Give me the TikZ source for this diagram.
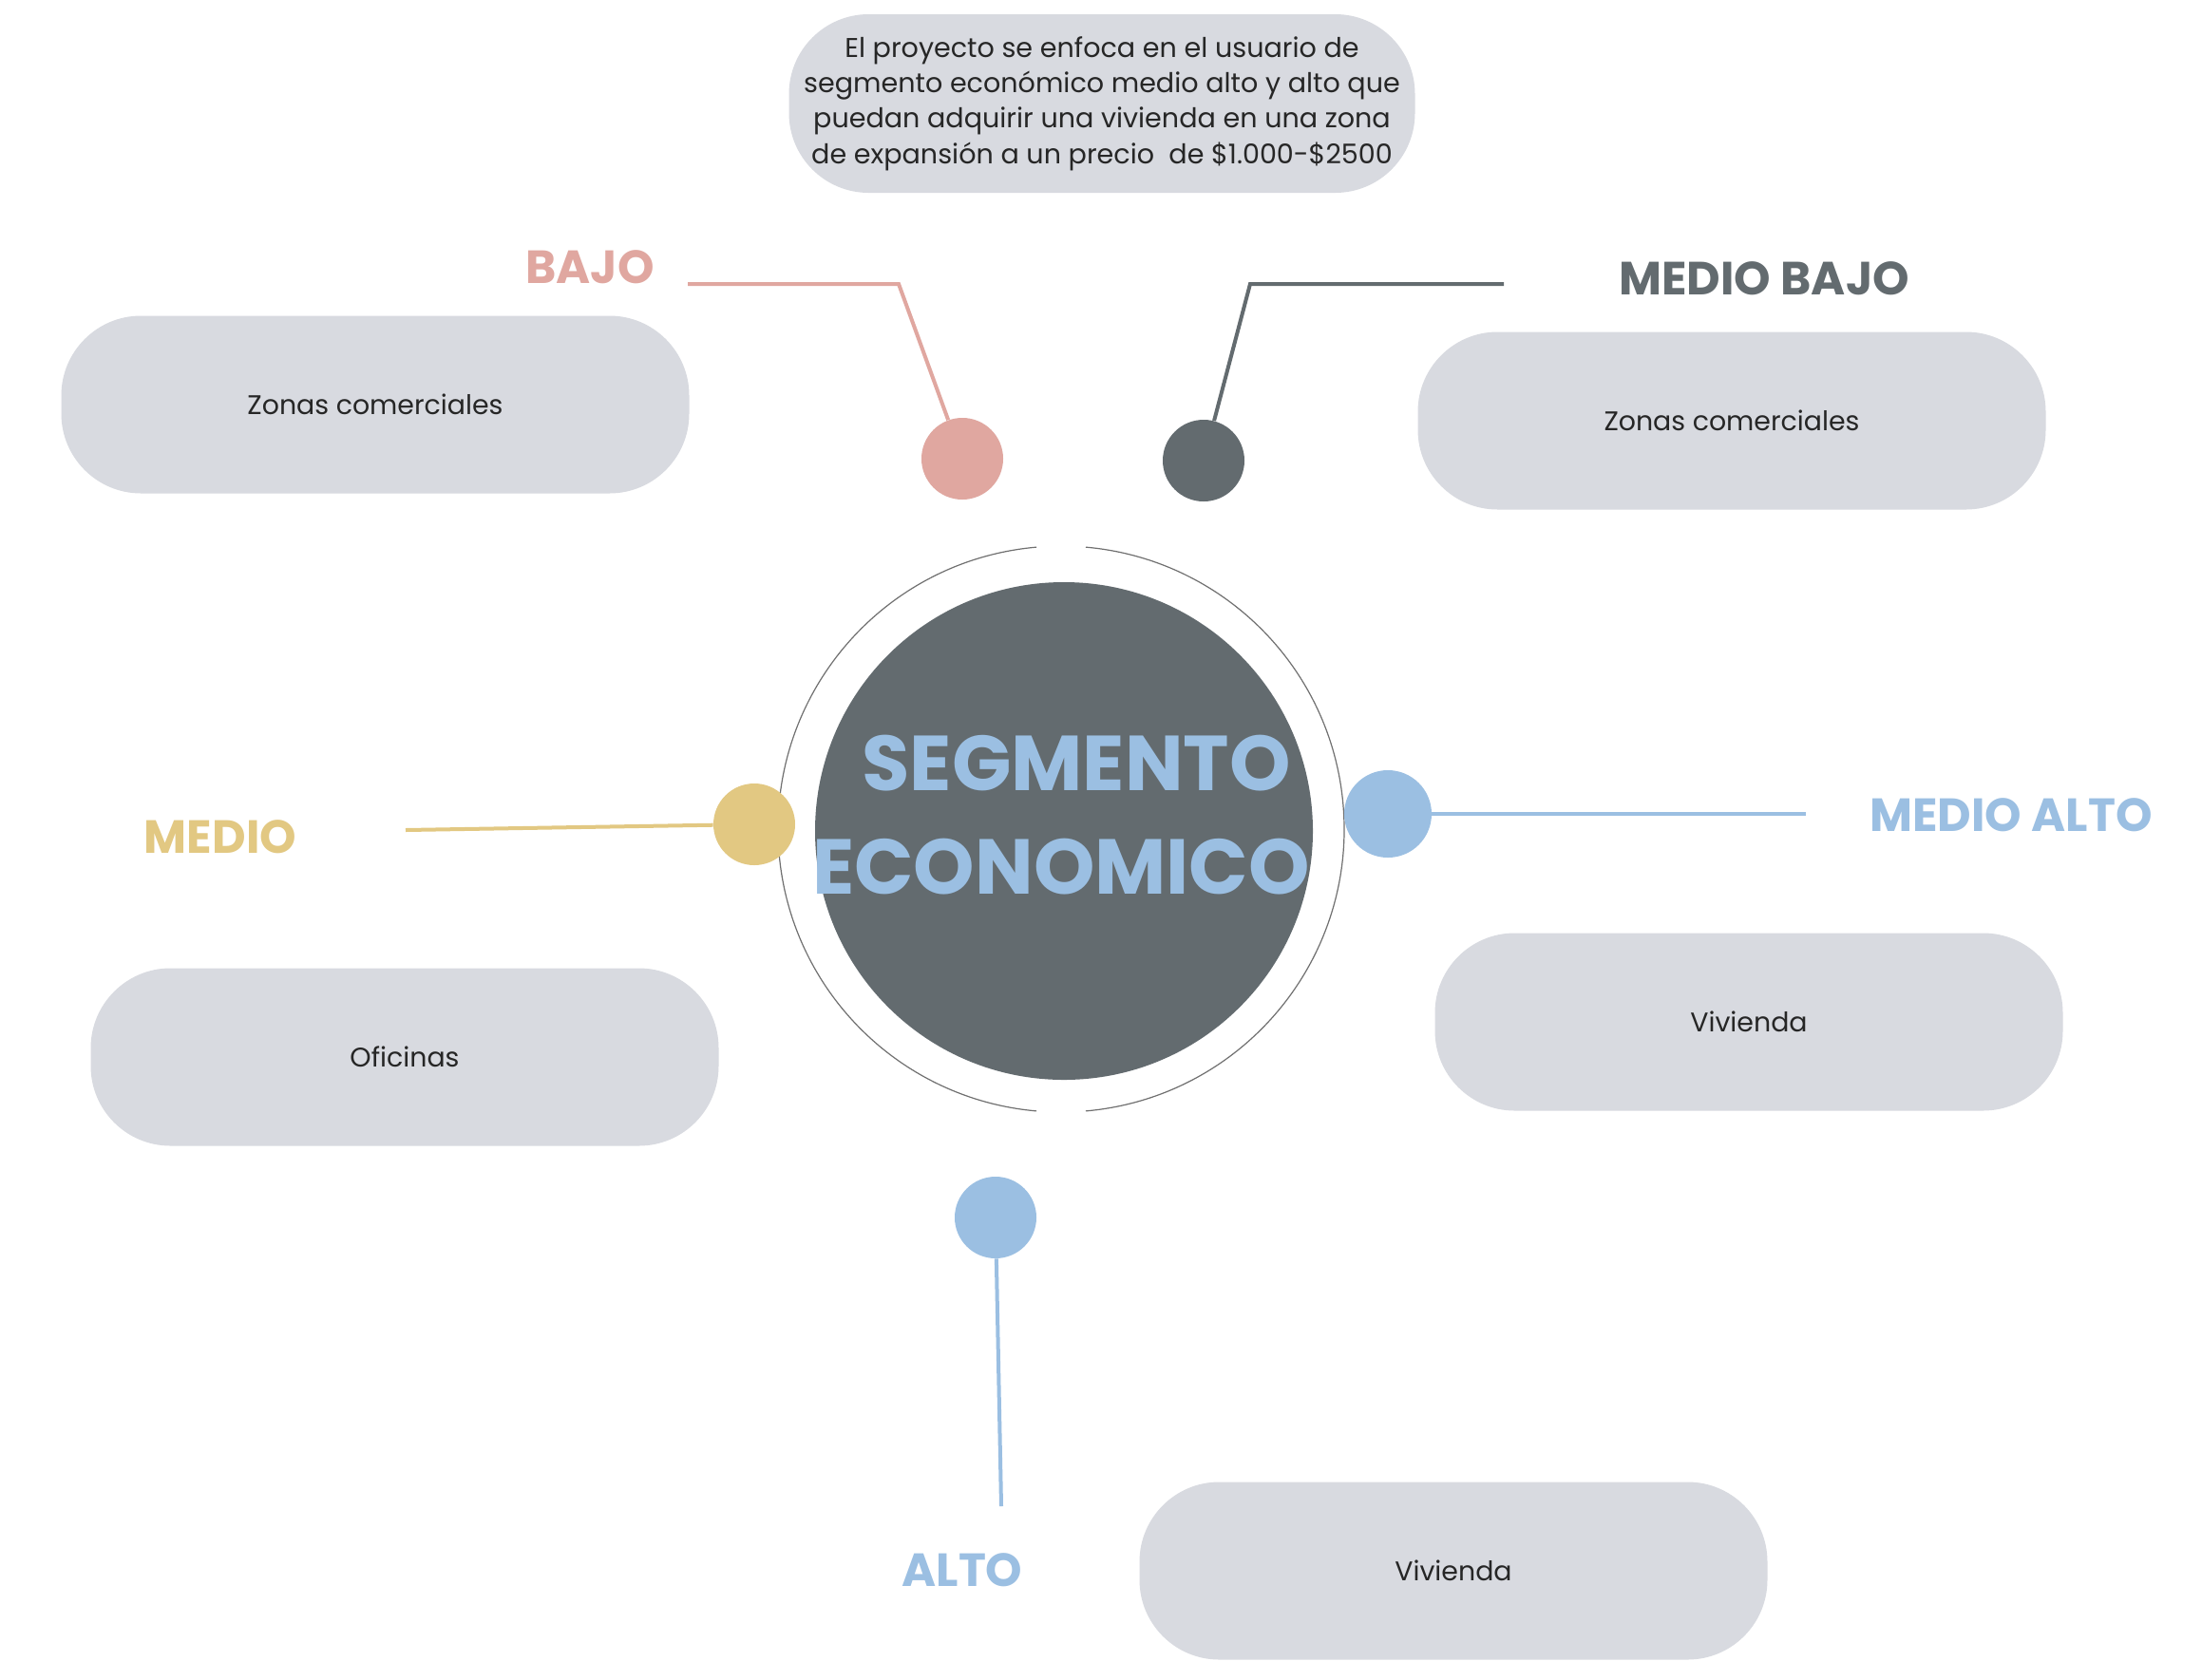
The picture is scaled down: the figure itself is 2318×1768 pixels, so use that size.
\documentclass[tikz,border=0pt]{standalone}
\usepackage{fontspec}
\setmainfont{Poppins}
\definecolor{pinkc}{HTML}{E0A7A0}
\definecolor{darkc}{HTML}{636B6F}
\definecolor{goldc}{HTML}{E2C882}
\definecolor{bluec}{HTML}{9BBFE2}
\definecolor{boxc}{HTML}{D8DAE0}
\definecolor{ringc}{HTML}{707070}
\begin{document}
\begin{tikzpicture}[x=0.5pt,y=-0.5pt,
  pill/.style={fill=boxc, rounded corners=42pt, minimum width=330.5pt, minimum height=93.5pt, inner sep=0pt, text=black!85, font=\fontsize{14.2}{16}\selectfont},
  dot/.style={circle, inner sep=0pt, minimum size=43pt},
  lab/.style={font=\fontsize{24.5}{28}\selectfont\bfseries},
  big/.style={font=\fontsize{41}{46}\selectfont\bfseries, text=bluec, inner sep=0pt},
  conn/.style={line width=2pt},
  ring/.style={line width=0.6pt, draw=ringc}]
\useasboundingbox (0,0) rectangle (2318,1768);
\fill[white] (0,0) rectangle (2318,1768);

% info bubble
\node[pill, minimum width=329.5pt, minimum height=94pt, align=center, font=\fontsize{14.3}{18.7}\selectfont] (info) at (1160,109)
  {El proyecto se enfoca en el usuario de\\segmento económico medio alto y alto que\\puedan adquirir una vivienda en una zona\\de expansión a un precio\ \ de \$1.000-\$2500};

% boxes
\node[pill] (box1) at (395,426) {Zonas comerciales};
\node[pill] (box2) at (1823,443) {Zonas comerciales};
\node[pill] (box3) at (1841,1076) {Vivienda};
\node[pill] (box4) at (426,1113) {Oficinas};
\node[pill] (box5) at (1530,1654) {Vivienda};

% center
\coordinate (ringc) at (1117,873);
\draw[ring] ([shift={(95:149pt)}]ringc) arc[start angle=95, end angle=265, radius=149pt];
\draw[ring] ([shift={(-85:149pt)}]ringc) arc[start angle=-85, end angle=85, radius=149pt];
\node[circle, fill=darkc, minimum size=262pt, inner sep=0pt] (core) at (1120,875) {};
\node[big] (t1) at (1133,804) {SEGMENTO};
\node[big] (t2) at (1117,913) {ECONOMICO};

% dots
\node[dot, fill=pinkc] (dbajo) at (1013,483) {};
\node[dot, fill=darkc] (dmb) at (1267,485) {};
\node[dot, fill=goldc] (dmedio) at (794,868) {};
\node[dot, fill=bluec, minimum size=46pt] (dma) at (1461,857) {};
\node[dot, fill=bluec] (dalto) at (1048,1282) {};

% labels
\node[lab, text=pinkc] (lbajo) at (621,281) {BAJO};
\node[lab, text=darkc] (lmb) at (1857,293) {MEDIO BAJO};
\node[lab, text=goldc] (lmedio) at (232,881) {MEDIO};
\node[lab, text=bluec] (lma) at (2117,858) {MEDIO ALTO};
\node[lab, text=bluec] (lalto) at (1013,1653) {ALTO};

% connectors
\coordinate (cbajoA) at (724,299);
\coordinate (cbajoB) at (946,299);
\coordinate (cmbA) at (1583,299);
\coordinate (cmbB) at (1316,299);
\coordinate (cmedio) at (427,874);
\coordinate (cma) at (1901,857);
\coordinate (calto) at (1054,1586);
\draw[conn, pinkc] (cbajoA) -- (cbajoB) -- (dbajo);
\draw[conn, darkc] (cmbA) -- (cmbB) -- (dmb);
\draw[conn, goldc] (cmedio) -- (dmedio);
\draw[conn, bluec] (dma) -- (cma);
\draw[conn, bluec] (dalto) -- (calto);
\end{tikzpicture}
\end{document}
